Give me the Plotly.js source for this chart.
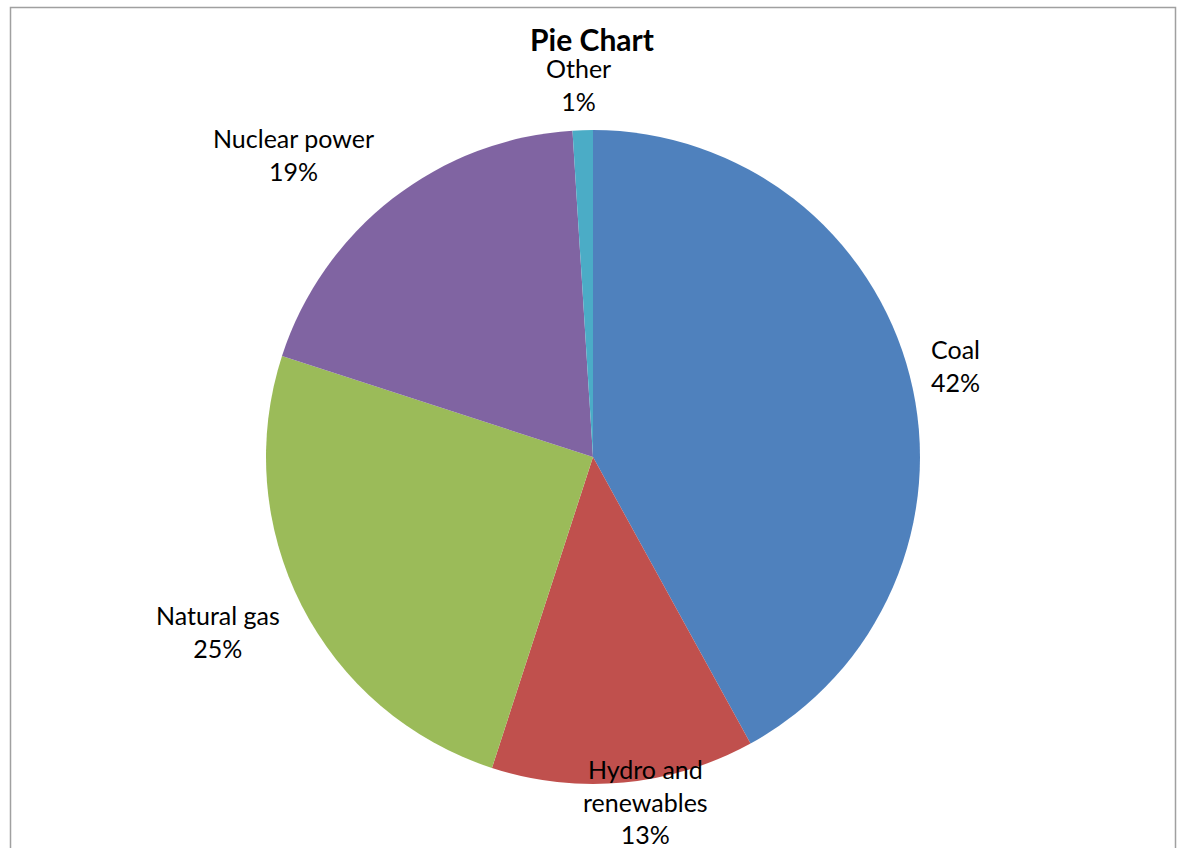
<!DOCTYPE html>
<html>
<head>
<meta charset="utf-8">
<script src="https://cdn.plot.ly/plotly-3.0.1.min.js"></script>
<style>
  html, body { margin: 0; padding: 0; background: #ffffff; }
  #chart { width: 1181px; height: 848px; }
</style>
</head>
<body>
<div id="chart"></div>
<script>
// ---- data ----
const categories = ["Coal", "Hydro and renewables", "Natural gas", "Nuclear power", "Other"];
const labelText = ["Coal", "Hydro and<br>renewables", "Natural gas", "Nuclear power", "Other"];
const shares = [42, 13, 25, 19, 1];
const colors = ["#4F81BD", "#C0504D", "#9BBB59", "#8064A2", "#4BACC6"];

// ---- layout helpers (pixel positions of the data labels, separate from data) ----
const W = 1181, H = 848;
const labelPx = [[955, 365], [645, 801], [218, 631], [293, 154], [578, 84]];
const px = x => x / W;
const py = y => 1 - y / H;

const FONT = "Lato, Calibri, 'Open Sans', sans-serif";

const annotations = categories.map((c, i) => ({
  text: labelText[i] + "<br>" + shares[i] + "%",
  xref: "paper", yref: "paper",
  x: px(labelPx[i][0]), y: py(labelPx[i][1]),
  xanchor: "center", yanchor: "middle",
  showarrow: false,
  align: "center",
  font: { family: FONT, size: 25, color: "#000000" }
}));

const trace = {
  type: "pie",
  labels: categories,
  values: shares,
  sort: false,
  direction: "clockwise",
  rotation: 0,
  marker: { colors: colors, line: { width: 0 } },
  textinfo: "none",
  hoverinfo: "label+percent",
  showlegend: false,
  domain: { x: [px(266), px(920)], y: [1 - 784 / H, 1 - 130 / H] }
};

const layout = {
  width: W, height: H,
  margin: { l: 0, r: 0, t: 0, b: 0 },
  paper_bgcolor: "#ffffff",
  title: {
    text: "<b>Pie Chart</b>",
    font: { family: FONT, size: 30, color: "#000000" },
    x: px(592), xanchor: "center",
    y: py(40), yanchor: "middle",
    xref: "paper", yref: "paper"
  },
  annotations: annotations,
  shapes: [{
    type: "rect", xref: "paper", yref: "paper",
    x0: px(10.5), x1: px(1175.5), y0: py(860), y1: py(7.5),
    line: { color: "#A0A0A0", width: 1.5 },
    fillcolor: "rgba(0,0,0,0)"
  }],
  showlegend: false
};

Plotly.newPlot("chart", [trace], layout, { displayModeBar: false, staticPlot: false });
</script>
</body>
</html>
